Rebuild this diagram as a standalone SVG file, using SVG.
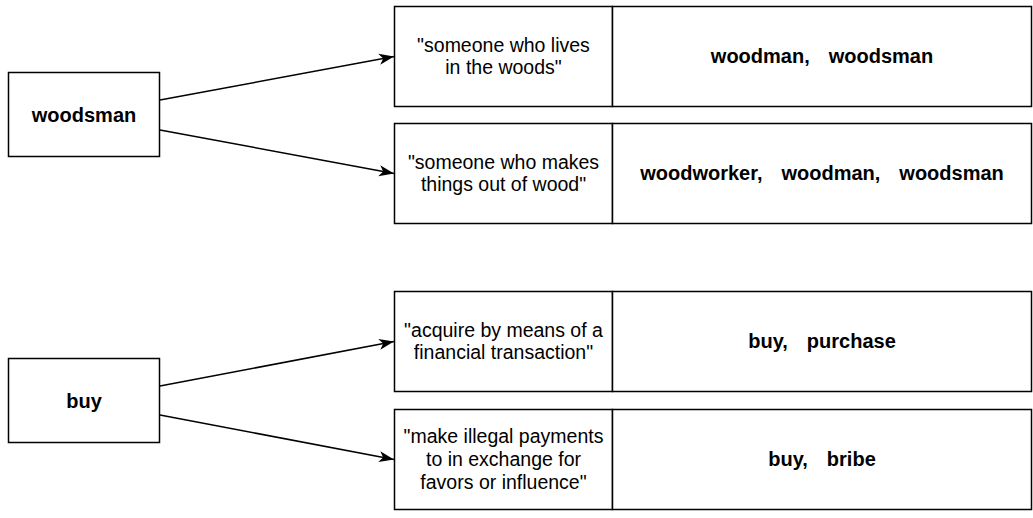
<svg xmlns="http://www.w3.org/2000/svg" width="1033" height="518" viewBox="0 0 1033 518">
<style>
rect { fill: #ffffff; stroke: #000000; stroke-width: 1.5; }
text { font-family: "Liberation Sans", Arial, Helvetica, sans-serif; fill: #000000; text-anchor: middle; }
.def { font-size: 19.5px; }
.syn { font-size: 20px; font-weight: bold; }
.word { font-size: 20px; font-weight: bold; }
.conn line { stroke: #000000; stroke-width: 1.5; fill: none; marker-end: url(#arrow); }
</style>
<defs>
<marker id="arrow" markerUnits="userSpaceOnUse" viewBox="-16 -7 17 14" refX="0" refY="0" markerWidth="17" markerHeight="14" orient="auto">
<path d="M0,0 L-15,-5.5 L-11,0 L-15,5.5 Z" fill="#000000"/>
</marker>
</defs>
<rect x="0" y="0" width="1033" height="518" style="fill:#ffffff;stroke:none"/>
<g id="connectors" class="conn">
<line x1="160" y1="100" x2="394" y2="56.5"/>
<line x1="160" y1="130" x2="394" y2="173.5"/>
<line x1="160" y1="386" x2="394" y2="341.5"/>
<line x1="160" y1="415" x2="394" y2="459.5"/>
</g>
<g id="node-woodsman">
<rect x="8.5" y="72.5" width="151" height="84"/>
<text class="word" x="84" y="122">woodsman</text>
</g>
<g id="node-buy">
<rect x="8.5" y="358.5" width="151" height="84"/>
<text class="word" x="84" y="408">buy</text>
</g>
<g id="node-def1">
<rect x="394.5" y="6.5" width="218" height="100"/>
<text class="def" x="503.5" y="52">"someone who lives</text>
<text class="def" x="503.5" y="74">in the woods"</text>
</g>
<g id="node-syn1">
<rect x="612.5" y="6.5" width="419" height="100"/>
<text class="syn" x="822" y="63">woodman,<tspan dx="19">woodsman</tspan></text>
</g>
<g id="node-def2">
<rect x="394.5" y="123.5" width="218" height="100"/>
<text class="def" x="503.5" y="169">"someone who makes</text>
<text class="def" x="503.5" y="191">things out of wood"</text>
</g>
<g id="node-syn2">
<rect x="612.5" y="123.5" width="419" height="100"/>
<text class="syn" x="822" y="180">woodworker,<tspan dx="19">woodman,</tspan><tspan dx="19">woodsman</tspan></text>
</g>
<g id="node-def3">
<rect x="394.5" y="291.5" width="218" height="100"/>
<text class="def" x="503.5" y="337">"acquire by means of a</text>
<text class="def" x="503.5" y="359">financial transaction"</text>
</g>
<g id="node-syn3">
<rect x="612.5" y="291.5" width="419" height="100"/>
<text class="syn" x="822" y="348">buy,<tspan dx="19">purchase</tspan></text>
</g>
<g id="node-def4">
<rect x="394.5" y="409.5" width="218" height="100"/>
<text class="def" x="503.5" y="443">"make illegal payments</text>
<text class="def" x="503.5" y="466">to in exchange for</text>
<text class="def" x="503.5" y="489">favors or influence"</text>
</g>
<g id="node-syn4">
<rect x="612.5" y="409.5" width="419" height="100"/>
<text class="syn" x="822" y="466">buy,<tspan dx="19">bribe</tspan></text>
</g>
</svg>
